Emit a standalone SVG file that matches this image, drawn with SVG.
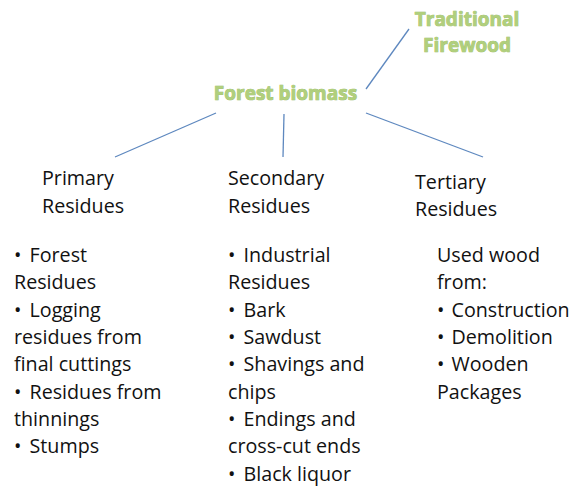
<svg xmlns="http://www.w3.org/2000/svg" width="572" height="490" viewBox="0 0 572 490">
<style>
.g{font-family:"Open Sans","Noto Sans",sans-serif;font-weight:bold;font-size:19px;fill:#B0CF7C;stroke:#93B65A;stroke-width:0.7px;paint-order:stroke}
.t{font-family:"Open Sans","Noto Sans",sans-serif;font-size:19.7px;fill:#111}
.c{stroke:#5E88BF;stroke-width:1.3;fill:none}
</style>
<rect width="572" height="490" fill="#fff"/>
<g id="connectors">
<line class="c" x1="409" y1="29" x2="366" y2="89"/>
<line class="c" x1="216" y1="113" x2="115" y2="157"/>
<line class="c" x1="284" y1="114" x2="283" y2="157"/>
<line class="c" x1="366" y1="113" x2="483" y2="157"/>
</g>
<g id="traditional-firewood">
<text class="g" x="467" y="26" text-anchor="middle">Traditional</text>
<text class="g" x="467" y="52" text-anchor="middle">Firewood</text>
</g>
<g id="forest-biomass">
<text class="g" x="285.5" y="100" text-anchor="middle">Forest biomass</text>
</g>
<g id="primary">
<text class="t" x="42" y="185">Primary</text>
<text class="t" x="42" y="213">Residues</text>
<text class="t" x="14" y="262">•<tspan dx="3"> Forest</tspan></text>
<text class="t" x="14" y="289.3">Residues</text>
<text class="t" x="14" y="316.6">•<tspan dx="3"> Logging</tspan></text>
<text class="t" x="14" y="344">residues from</text>
<text class="t" x="14" y="371.3">final cuttings</text>
<text class="t" x="14" y="398.6">•<tspan dx="3"> Residues from</tspan></text>
<text class="t" x="14" y="426">thinnings</text>
<text class="t" x="14" y="453.3">•<tspan dx="3"> Stumps</tspan></text>
</g>
<g id="secondary">
<text class="t" x="228" y="185">Secondary</text>
<text class="t" x="228" y="213">Residues</text>
<text class="t" x="228" y="262">•<tspan dx="3"> Industrial</tspan></text>
<text class="t" x="228" y="289.3">Residues</text>
<text class="t" x="228" y="316.6">•<tspan dx="3"> Bark</tspan></text>
<text class="t" x="228" y="344">•<tspan dx="3"> Sawdust</tspan></text>
<text class="t" x="228" y="371.3">•<tspan dx="3"> Shavings and</tspan></text>
<text class="t" x="228" y="398.6">chips</text>
<text class="t" x="228" y="426">•<tspan dx="3"> Endings and</tspan></text>
<text class="t" x="228" y="453.3">cross-cut ends</text>
<text class="t" x="228" y="480.6">•<tspan dx="3"> Black liquor</tspan></text>
</g>
<g id="tertiary">
<text class="t" x="415" y="189">Tertiary</text>
<text class="t" x="415" y="216">Residues</text>
<text class="t" x="437" y="262">Used wood</text>
<text class="t" x="437" y="289.3">from:</text>
<text class="t" x="437" y="316.6">•<tspan dx="2"> Construction</tspan></text>
<text class="t" x="437" y="344">•<tspan dx="2"> Demolition</tspan></text>
<text class="t" x="437" y="371.3">•<tspan dx="2"> Wooden</tspan></text>
<text class="t" x="437" y="398.6">Packages</text>
</g>
</svg>
